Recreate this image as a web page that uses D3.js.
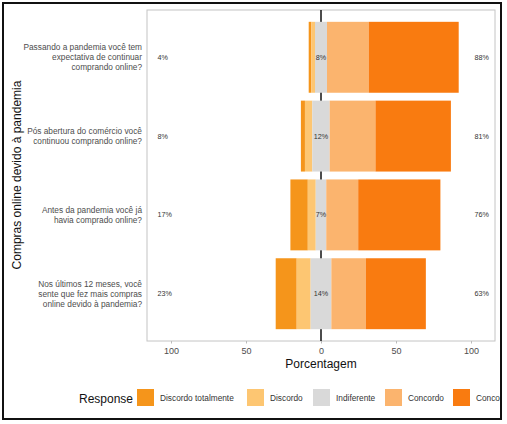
<!DOCTYPE html>
<html>
<head>
<meta charset="utf-8">
<script src="https://cdn.jsdelivr.net/npm/d3@7"></script>
<style>
	body { margin: 0; background: #fff; }
	svg { font-family: 'Liberation Sans', Arial, sans-serif; }
</style>
</head>
<body>
<div id="chart"></div>
<script>
//===============================================
//-------------------- DATA ---------------------
//===============================================
var questions = [
	['Passando a pandemia você tem', 'expectativa de continuar', 'comprando online?'],
	['Pós abertura do comércio você', 'continuou comprando online?'],
	['Antes da pandemia você já', 'havia comprado online?'],
	['Nos últimos 12 meses, você', 'sente que fez mais compras', 'online devido à pandemia?']
];
var responses = ['Discordo totalmente', 'Discordo', 'Indiferente', 'Concordo', 'Concordo totalmente'];
var colors = ['#F5951B', '#FDC672', '#D9D9D9', '#FBB46E', '#F97B10'];

// percent of answers per question, same order as responses
var discordoTotal = [1.8, 2.7, 11.6, 14.0];
var discordo      = [2.4, 4.9, 5.3, 9.3];
var indiferente   = [8.0, 11.6, 7.0, 13.8];
var concordo      = [27.8, 30.5, 21.3, 23.0];
var concordoTotal = [60.0, 50.3, 54.8, 40.0];

var xTicks = [-100, -50, 0, 50, 100];

//===============================================
//-------------------- CHART --------------------
//===============================================
var width = 507;
var height = 424;

var svg = d3.select('#chart').append('svg')
	.attr('width', width)
	.attr('height', height);

svg.append('clipPath').attr('id', 'frameClip')
	.append('rect').attr('x', 3).attr('y', 3).attr('width', 498).attr('height', 416);

var g = svg.append('g').attr('clip-path', 'url(#frameClip)');

var xScale = d3.scaleLinear().domain([-116, 116]).range([147, 495]);
var yScale = d3.scaleBand()
	.domain(d3.range(questions.length))
	.range([10, 341])
	.paddingInner(0.1)
	.paddingOuter(0.15);

// build stacked segments, neutral centered on zero
var rows = questions.map(function (q, i) {
	var vals = [discordoTotal[i], discordo[i], indiferente[i], concordo[i], concordoTotal[i]];
	var start = -(vals[0] + vals[1] + vals[2] / 2);
	var segs = [];
	vals.forEach(function (v, k) {
		segs.push({ row: i, k: k, x0: start, x1: start + v });
		start += v;
	});
	return {
		i: i,
		segs: segs,
		left: Math.round(vals[0] + vals[1]),
		mid: Math.round(vals[2]),
		right: Math.round(vals[3] + vals[4])
	};
});

// panel
g.append('rect')
	.attr('x', xScale.range()[0])
	.attr('y', 10)
	.attr('width', xScale.range()[1] - xScale.range()[0])
	.attr('height', 331)
	.attr('fill', '#fff')
	.attr('stroke', '#c4c4c4')
	.attr('stroke-width', 1);

// zero line
g.append('line')
	.attr('x1', xScale(0)).attr('x2', xScale(0))
	.attr('y1', 10).attr('y2', 341)
	.attr('stroke', '#111')
	.attr('stroke-width', 1.5);

var bars = g.selectAll('g.row').data(rows).enter().append('g').attr('class', 'row');

bars.selectAll('rect')
	.data(function (d) { return d.segs; })
	.enter().append('rect')
	.attr('x', function (d) { return xScale(d.x0); })
	.attr('width', function (d) { return xScale(d.x1) - xScale(d.x0); })
	.attr('y', function (d) { return yScale(d.row); })
	.attr('height', yScale.bandwidth())
	.attr('fill', function (d) { return colors[d.k]; });

// percent labels
var labelStyle = function (sel) {
	sel.attr('font-size', 7.2).attr('fill', '#333')
		.attr('y', function (d) { return yScale(d.i) + yScale.bandwidth() / 2 + 2.5; });
};
bars.append('text').call(labelStyle)
	.attr('x', xScale(-109)).attr('text-anchor', 'start')
	.text(function (d) { return d.left + '%'; });
bars.append('text').call(labelStyle)
	.attr('x', xScale(0)).attr('text-anchor', 'middle')
	.text(function (d) { return d.mid + '%'; });
bars.append('text').call(labelStyle)
	.attr('x', xScale(112)).attr('text-anchor', 'end')
	.text(function (d) { return d.right + '%'; });

// y axis labels
var yLab = g.selectAll('text.ylab').data(questions).enter().append('text')
	.attr('class', 'ylab')
	.attr('text-anchor', 'end')
	.attr('font-size', 8.3)
	.attr('fill', '#4d4d4d');
yLab.each(function (lines, i) {
	var cy = yScale(i) + yScale.bandwidth() / 2;
	var lh = 9.8;
	var top = cy - (lines.length - 1) * lh / 2 + 3;
	d3.select(this).selectAll('tspan').data(lines).enter().append('tspan')
		.attr('x', 142)
		.attr('y', function (d, j) { return top + j * lh; })
		.text(function (d) { return d; });
});

// x axis
var xAxis = g.append('g').attr('transform', 'translate(0,341)')
	.call(d3.axisBottom(xScale).tickValues(xTicks).tickSize(2.5).tickPadding(4)
		.tickFormat(function (d) { return Math.abs(d); }));
xAxis.select('.domain').remove();
xAxis.selectAll('line').attr('stroke', '#bbb');
xAxis.selectAll('text').attr('font-size', 9).attr('fill', '#4d4d4d')
	.attr('font-family', 'Liberation Sans, Arial, sans-serif');

g.append('text')
	.attr('x', xScale(0)).attr('y', 368)
	.attr('text-anchor', 'middle').attr('font-size', 12).attr('fill', '#111')
	.text('Porcentagem');

g.append('text')
	.attr('transform', 'translate(21,175) rotate(-90)')
	.attr('text-anchor', 'middle').attr('font-size', 12).attr('fill', '#111')
	.text('Compras online devido à pandemia');

// legend
var legendX = [137, 247, 313, 385, 453];
g.append('text')
	.attr('x', 79).attr('y', 403)
	.attr('font-size', 12).attr('fill', '#111')
	.text('Response');

var keys = g.selectAll('g.key').data(responses).enter().append('g')
	.attr('class', 'key')
	.attr('transform', function (d, i) { return 'translate(' + legendX[i] + ',389)'; });
keys.append('rect')
	.attr('width', 17).attr('height', 17)
	.attr('fill', function (d, i) { return colors[i]; });
keys.append('text')
	.attr('x', 23).attr('y', 12)
	.attr('font-size', 8.3).attr('fill', '#333')
	.text(function (d) { return d; });

// outer frame
svg.append('rect')
	.attr('x', 3).attr('y', 3).attr('width', 498).attr('height', 416)
	.attr('fill', 'none').attr('stroke', '#111').attr('stroke-width', 2);
</script>
</body>
</html>
